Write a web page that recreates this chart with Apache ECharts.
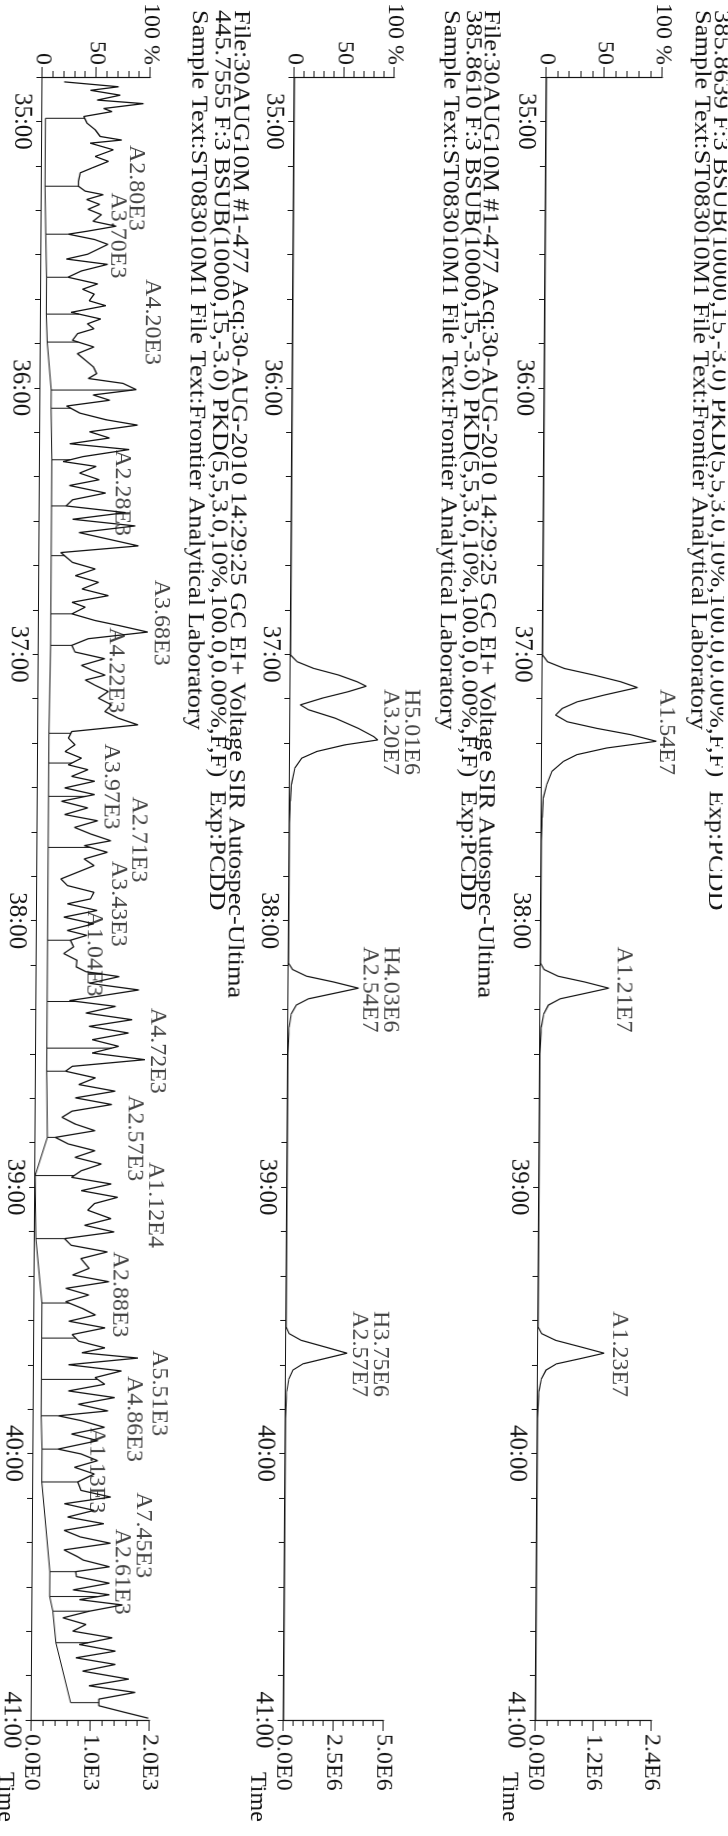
<!DOCTYPE html>
<html><head><meta charset="utf-8">
<script src="https://cdn.jsdelivr.net/npm/echarts@6/dist/echarts.min.js"></script>
<style>
html,body{margin:0;padding:0;background:#fff;overflow:hidden;width:728px;height:1836px;}
#wrap{position:absolute;left:0;top:0;width:1836px;height:728px;transform-origin:0 0;transform:translate(728px,0) rotate(90deg) skewY(0.38deg);}
#chart{width:1836px;height:728px;background:#fff;}
</style></head>
<body><div id="wrap"><div id="chart"></div></div>
<script>
// ---------- DATA (time in seconds, intensity in % of panel) ----------
const timeTicksMin = 2090, timeTicksMax = 2460;

const headerA = ["385.8639 F:3 BSUB(10000,15,-3.0) PKD(5,5,3.0,10%,100.0,0.00%,F,F)  Exp:PCDD",
                 "Sample Text:ST083010M1 File Text:Frontier Analytical Laboratory"];
const headerB = ["File:30AUG10M #1-477 Acq:30-AUG-2010 14:29:25 GC EI+ Voltage SIR Autospec-Ultima",
                 "385.8610 F:3 BSUB(10000,15,-3.0) PKD(5,5,3.0,10%,100.0,0.00%,F,F)  Exp:PCDD",
                 "Sample Text:ST083010M1 File Text:Frontier Analytical Laboratory"];
const headerC = ["File:30AUG10M #1-477 Acq:30-AUG-2010 14:29:25 GC EI+ Voltage SIR Autospec-Ultima",
                 "445.7555 F:3 BSUB(10000,15,-3.0) PKD(5,5,3.0,10%,100.0,0.00%,F,F)  Exp:PCDD",
                 "Sample Text:ST083010M1 File Text:Frontier Analytical Laboratory"];

const traceA = [[2090,0],[2220.2,0],[2221.7,4.3],[2223.2,18.7],[2224.7,44.5],[2226.2,67.5],[2227.5,81.9],[2229.2,53.2],[2230.7,30.2],[2232.2,17.2],[2233.7,11.5],[2235.2,21.5],[2236.7,47.4],[2238.1,76.1],[2239.6,98.5],[2241.1,56],[2242.6,30.2],[2244.1,18.7],[2246.4,8.6],[2249.3,4.3],[2252.3,1.4],[2256.8,0.6],[2262,0],
 [2289.6,0],[2291.0,3],[2292.5,15],[2293.8,38],[2295.2,59],[2296.4,38],[2297.6,17],[2299,7],[2301,3],[2304,1],[2310,0],
 [2371.5,0],[2373,3],[2374.5,15],[2376,37],[2377.4,57],[2378.6,37],[2379.8,16],[2381.2,7],[2383.2,3],[2386,1],[2392,0],[2460,0]];

const traceB = [[2090,0],[2220.2,0],[2221.7,6.7],[2223.2,23.3],[2224.7,48.3],[2226.2,66.7],[2227.2,75.7],[2228.4,58.3],[2229.9,31.7],[2231.4,10],[2232.5,18.3],[2234.4,45],[2236.7,68.3],[2238.5,83.3],[2239.3,87.7],[2240.4,55],[2241.9,26.7],[2243.4,11.7],[2245.6,5],[2249.3,1.7],[2253.1,0.7],[2258,0],
 [2289.6,0],[2291.0,4],[2292.5,18],[2293.8,45],[2295.2,70],[2296.4,45],[2297.6,20],[2299,8],[2301,3],[2304,1],[2310,0],
 [2371.5,0],[2373,3],[2374.5,15],[2376,39],[2377.4,61],[2378.6,39],[2379.8,17],[2381.2,7],[2383.2,3],[2386,1],[2392,0],[2460,0]];

const traceC = [[2091.1,20.2],[2092.2,70.6],[2093.0,44.6],[2094.1,72.2],[2095.2,50.8],[2096.0,93.6],[2097.1,56.9],[2097.8,64.5],[2098.9,38.5],[2100.4,41.6],[2101.9,49.2],[2103.4,53.8],[2104.2,73.7],[2104.9,44.6],[2106.4,66.1],[2107.9,49.2],[2109.0,61.5],[2110.5,46.2],[2111.6,35.5],[2113.5,34.0],[2114.6,34.0],[2115.7,40.1],[2116.5,56.9],[2117.6,41.6],[2118.7,53.8],[2119.8,43.1],[2121.0,55.4],[2122.5,47.7],[2123.6,69.1],[2124.7,43.1],[2125.4,24.8],[2126.6,49.2],[2127.7,61.5],[2128.8,52.3],[2129.9,43.1],[2131.0,23.2],[2132.2,61.5],[2133.7,37.0],[2135.1,24.8],[2136.6,52.3],[2137.8,38.5],[2138.9,49.2],[2140.4,44.6],[2141.5,60.0],[2143.0,27.8],[2144.5,55.4],[2145.6,43.1],[2146.7,49.2],[2147.8,34.0],[2149.3,29.4],[2150.8,49.2],[2152.3,34.0],[2153.8,41.6],
 [2155.3,48.9],[2156.8,52.0],[2157.9,44.3],[2159.0,76.4],[2160.4,88.7],[2161.6,48.9],[2162.8,64.2],[2164.1,24.4],[2165.7,36.7],[2167.2,61.1],[2168.4,90.2],[2169.9,45.8],[2171.3,64.2],[2172.6,27.5],[2173.9,82.5],[2175.5,39.7],[2176.6,21.4],[2177.7,52.0],[2179.2,36.7],[2180.7,55.0],[2182.0,27.5],[2183.7,61.1],[2185.2,30.6],[2186.6,24.4],[2188.1,79.5],[2189.6,30.6],[2191.1,88.7],[2192.6,36.7],[2194.1,64.2],[2195.6,91.7],[2197.1,19.9],[2199.3,30.6],[2200.8,52.0],[2202.3,33.6],[2203.8,55.0],[2205.3,39.7],[2206.8,64.2],[2208.3,30.6],[2209.4,42.8],[2210.9,30.6],[2212.4,52.0],[2213.5,73.4],[2215.0,100.9],[2216.5,45.8],[2218.0,30.6],[2219.5,33.6],[2221.0,61.1],[2222.5,39.7],
 [2223.6,49.5],[2224.7,61.7],[2225.8,43.4],[2227.0,52.6],[2228.4,64.8],[2229.9,55.6],[2231.4,67.9],[2232.9,61.7],[2234.4,74.0],[2235.9,92.3],[2237.4,31.2],[2238.9,28.1],[2240.4,34.2],[2241.9,25.0],[2243.4,40.3],[2244.9,28.1],[2246.0,46.4],[2247.5,31.2],[2248.6,52.6],[2250.1,25.0],[2251.6,52.6],[2253.1,22.0],[2254.6,46.4],[2256.1,25.0],[2257.5,55.6],[2259.0,34.2],[2260.5,49.5],[2262.0,67.9],[2263.1,43.4],[2264.6,64.8],[2266.1,43.4],[2267.6,52.6],[2269.1,37.3],[2270.6,22.0],[2272.1,28.1],[2273.6,52.6],[2275.1,49.5],[2276.2,28.1],[2277.7,55.6],[2279.2,25.0],[2280.7,52.6],[2282.2,28.1],[2283.3,46.4],[2284.4,31.2],[2285.9,34.2],[2287.4,25.0],[2288.9,37.3],
 [2290.4,36.7],[2291.5,45.9],[2292.6,76.5],[2294.1,48.9],[2295.6,94.8],[2297.1,55.1],[2298.0,30.6],[2299.3,73.4],[2300.8,45.9],[2302.3,88.7],[2303.8,48.9],[2305.3,85.6],[2306.8,52.0],[2308.3,76.5],[2309.8,52.0],[2311.3,100.9],[2312.8,33.7],[2313.9,27.5],[2315.4,55.1],[2316.9,39.8],[2318.4,73.4],[2319.9,36.7],[2321.4,70.4],[2322.9,33.7],[2324.3,24.5],[2325.8,36.7],[2327.3,55.1],[2328.8,18.4],[2330.3,30.6],[2331.8,55.1],[2333.3,36.7],[2334.8,61.2],[2336.3,42.8],[2337.8,33.7],[2339.3,70.4],[2340.8,42.8],[2342.3,76.5],[2343.7,55.1],[2345.2,48.9],[2347.1,70.4],[2348.6,45.9],[2350.1,73.4],[2351.6,27.5],[2353.1,33.7],[2354.6,67.3],[2356.1,42.8],
 [2358.3,50.4],[2359.8,35.2],[2361.3,68.8],[2362.8,29.0],[2364.3,50.4],[2365.8,29.0],[2367.3,44.3],[2368.8,56.6],[2370.2,32.1],[2371.7,65.7],[2373.2,35.2],[2374.7,41.3],[2376.2,65.7],[2377.3,44.3],[2378.5,96.3],[2380.0,32.1],[2381.4,81.0],[2382.9,56.6],[2384.4,65.7],[2385.9,32.1],[2387.4,74.9],[2388.9,41.3],[2390.4,68.8],[2391.5,22.9],[2392.6,44.3],[2394.1,65.7],[2395.6,35.2],[2397.1,59.6],[2399.0,22.9],[2400.1,44.3],[2401.6,59.6],[2403.1,38.2],[2404.6,56.6],[2406.4,41.3],[2408.3,44.3],[2409.8,71.9],[2411.3,29.0],[2412.8,56.6],[2414.3,32.1],[2415.8,65.7],[2417.3,29.0],[2418.8,44.3],[2420.2,71.9],[2421.7,29.0],[2423.2,41.3],
 [2424.0,46.8],[2425.5,71.2],[2426.6,40.0],[2427.7,40.6],[2429.2,71.2],[2430.7,37.6],[2431.8,71.2],[2432.9,43.7],[2434.1,83.4],[2435.5,52.9],[2437.0,28.4],[2438.5,49.8],[2440.0,37.6],[2441.5,74.3],[2443.0,43.7],[2444.5,77.3],[2446.0,40.6],[2447.5,77.3],[2449.0,46.8],[2450.8,89.6],[2452.3,52.9],[2453.8,95.7],[2455.3,62.1],[2456.8,62.1],[2458.3,86.5],[2459.6,108]];

// integration drop-line times and baseline level (%) for panel C
const dropTimesC = [2099.3,2114.6,2125.4,2135.1,2143.4,2149.7,2160.5,2164.6,2176.2,2186.6,2197.8,2210.9,2218.0,2237.8,2244.5,2252.0,2263.5,2284.4,2298.2,2308.7,2313.9,2328.8,2337.4,2351.6,2366.1,2374.0,2383.3,2391.5,2399.0,2406.4,2426.6,2432.2,2435.5,2442.6,2456.1];
const dropBaseC  = [3,3,4,5,5,6,10,10,11,11,11,11,11,10,10,10,10,10,10,10,10,11,0,1,7,7,7,7,8,8,16,16,19,22,36];

// peak annotations: [time(s), level(%), text]
const labelsA = [[2237.5,107,"A1.54E7"],[2295.5,72,"A1.21E7"],[2377.6,70,"A1.23E7"]];
const labelsB = [[2237.5,111,"H5.01E6\nA3.20E7"],[2295.5,92,"H4.03E6\nA2.54E7"],[2377.6,84,"H3.75E6\nA2.57E7"]];
const labelsC = [[2115.0,87,"A2.80E3"],[2125.7,71,"A3.70E3"],[2145.2,103,"A4.20E3"],[2183.7,76,"A2.28E3"],[2212.9,113,"A3.68E3"],[2223.6,72,"A4.22E3"],[2249.8,68,"A3.97E3"],[2261.7,94,"A2.71E3"],[2276.2,75,"A3.43E3"],[2287.4,53,"A1.04E3"],[2309.3,112,"A4.72E3"],[2329.0,92,"A2.57E3"],[2344.0,111,"A1.12E4"],[2364.2,79,"A2.88E3"],[2386.4,116,"A5.51E3"],[2392.2,93,"A4.86E3"],[2403.8,59,"A1.13E3"],[2418.4,102,"A7.45E3"],[2426.6,83,"A2.61E3"]];

const absMaxA = 2.4e6, absMaxB = 5.0e6, absMaxC = 2.0e3;

// ---------- LAYOUT ----------
const FONT = '"Liberation Serif","DejaVu Serif",serif';
const INK = '#141414';
const W = 1836, H = 728, GL = 68.3, GR = W - 1720;
const panels = [
  {base: 181, hPct: 116, hAbs: 116, absMax: absMaxA, trace: traceA, labels: labelsA, header: headerA, headerY: [7, 26], lw: 1.2},
  {base: 433, hPct: 100, hAbs: 100, absMax: absMaxB, trace: traceB, labels: labelsB, header: headerB, headerY: [237, 255, 277], lw: 1.2},
  {base: 685, hPct: 108, hAbs: 118, absMax: absMaxC, trace: traceC, labels: labelsC, header: headerC, headerY: [487, 506, 529], lw: 1.3}
];

function fmtTime(v){ if (v % 60 !== 0) return ''; const m = Math.floor(v/60), s = v % 60; return m + ':' + (s<10?'0':'') + s; }
function fmtExp(v){ return v.toExponential(1).toUpperCase().replace('+',''); }
function interp(tr, t){ for (let i=1;i<tr.length;i++){ if (tr[i][0] >= t){ const a=tr[i-1], b=tr[i]; return a[1] + (b[1]-a[1])*(t-a[0])/(b[0]-a[0]); } } return tr[tr.length-1][1]; }

const grid=[], xAxis=[], yAxis=[], series=[], graphic=[];
panels.forEach((p, i) => {
  const gPct = grid.length;
  grid.push({left: GL, right: GR, top: p.base - p.hPct, height: p.hPct});
  grid.push({left: GL, right: GR, top: p.base - p.hAbs, height: p.hAbs});
  xAxis.push({type:'value', gridIndex:gPct, min:timeTicksMin, max:timeTicksMax, interval:10,
    axisLine:{show:true, onZero:false, lineStyle:{color:INK, width:1.2}},
    axisTick:{show:true, length:6, lineStyle:{color:INK}},
    axisLabel:{formatter:fmtTime, margin:8, fontFamily:FONT, fontSize:25, color:INK, showMinLabel:true, showMaxLabel:true},
    splitLine:{show:false},
    name:'Time', nameLocation:'end', nameGap:52, nameMoveOverlap:false,
    nameTextStyle:{fontFamily:FONT, fontSize:24, color:INK, verticalAlign:'top', align:'left', padding:[14,0,0,0]}});
  xAxis.push({type:'value', gridIndex:gPct+1, min:timeTicksMin, max:timeTicksMax, show:false});
  yAxis.push({type:'value', gridIndex:gPct, position:'left', min:0, max:100, interval:50,
    axisLine:{show:true, lineStyle:{color:INK, width:1.2}},
    axisTick:{show:true, length:10, lineStyle:{color:INK}},
    minorTick:{show:true, splitNumber:5, length:6, lineStyle:{color:INK}},
    axisLabel:{formatter:v => v===100 ? '100 %' : String(v), margin:12, fontFamily:FONT, fontSize:24, color:INK},
    splitLine:{show:false}});
  yAxis.push({type:'value', gridIndex:gPct+1, position:'right', min:0, max:p.absMax, interval:p.absMax/2,
    axisLine:{show:true, lineStyle:{color:INK, width:1.2}},
    axisTick:{show:true, length:11, lineStyle:{color:INK}},
    minorTick:{show:true, splitNumber:5, length:6, lineStyle:{color:INK}},
    axisLabel:{formatter:fmtExp, margin:14, fontFamily:FONT, fontSize:24, color:INK},
    splitLine:{show:false}});
  series.push({type:'line', xAxisIndex:gPct, yAxisIndex:gPct, data:p.trace, showSymbol:false, symbol:'none',
    clip:false, animation:false, lineStyle:{color:INK, width:p.lw}});
  series.push({type:'scatter', xAxisIndex:gPct, yAxisIndex:gPct, symbolSize:0, clip:false, animation:false,
    data:p.labels.map(l => ({value:[l[0], l[1]], name:l[2]})),
    label:{show:true, position:'inside', formatter:'{b}', fontFamily:FONT, fontSize:24, color:INK, lineHeight:21, align:'center', verticalAlign:'middle'}});
  p.header.forEach((txt, k) => {
    graphic.push({type:'text', x:10, y:p.headerY[k], scaleX:1.1, silent:true,
      style:{text:txt, fill:INK, font:'24px ' + FONT, textAlign:'left', textVerticalAlign:'middle'}});
  });
});

// integration baseline and drop lines for panel C
const annC = [];
for (let i=0;i<dropTimesC.length;i++) annC.push([dropTimesC[i], dropBaseC[i]]);
annC.push([dropTimesC[dropTimesC.length-1], '-']);
dropTimesC.forEach((t,i) => { annC.push([t, dropBaseC[i]]); annC.push([t, interp(traceC, t)]); annC.push([t, '-']); });
series.push({type:'line', xAxisIndex:4, yAxisIndex:4, data:annC, showSymbol:false, symbol:'none', connectNulls:false,
  clip:false, animation:false, lineStyle:{color:INK, width:1}});

const chart = echarts.init(document.getElementById('chart'), null, {renderer:'canvas', width:W, height:H});
chart.setOption({backgroundColor:'#fff', animation:false, grid, xAxis, yAxis, series, graphic});
</script></body></html>
